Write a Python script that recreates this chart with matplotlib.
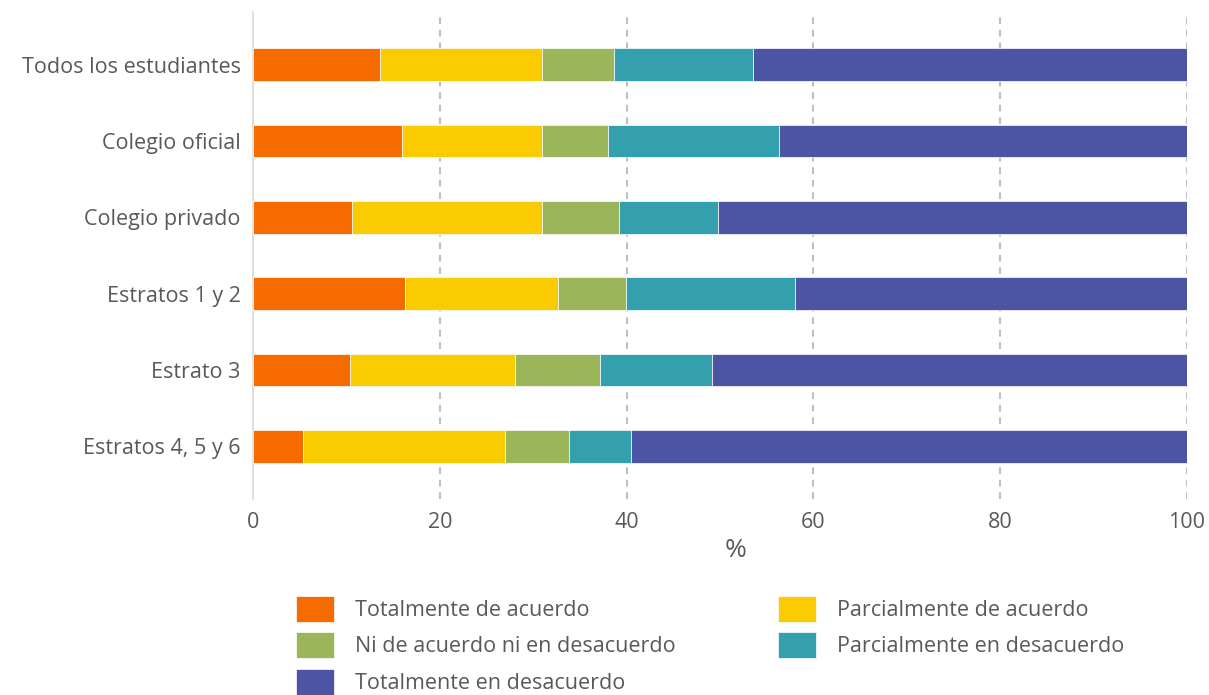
import matplotlib.pyplot as plt
import numpy as np

plt.rcParams['font.family'] = ['Open Sans', 'DejaVu Sans']

groups = ['Todos los estudiantes', 'Colegio oficial', 'Colegio privado',
          'Estratos 1 y 2', 'Estrato 3', 'Estratos 4, 5 y 6']
categories = ['Totalmente de acuerdo', 'Parcialmente de acuerdo',
              'Ni de acuerdo ni en desacuerdo', 'Parcialmente en desacuerdo',
              'Totalmente en desacuerdo']

totalmente_acuerdo = [13.6, 15.9, 10.6, 16.3, 10.4, 5.4]
parcialmente_acuerdo = [17.3, 15.0, 20.3, 16.4, 17.7, 21.6]
ni_ni = [7.7, 7.1, 8.3, 7.2, 9.1, 6.8]
parcialmente_desacuerdo = [14.9, 18.3, 10.6, 18.1, 11.9, 6.7]
totalmente_desacuerdo = [46.5, 43.7, 50.2, 42.0, 50.9, 59.5]

colors = ['#F56B00', '#FACB00', '#9AB55A', '#349FAD', '#4B55A3']
text_color = '#595959'

series = [totalmente_acuerdo, parcialmente_acuerdo, ni_ni,
          parcialmente_desacuerdo, totalmente_desacuerdo]

fig = plt.figure(figsize=(12.09, 6.95), dpi=100)
ax = fig.add_axes([0.2093, 0.282, 0.7725, 0.7007])

y = np.arange(len(groups))
left = np.zeros(len(groups))
bars = []
for vals, name, col in zip(series, categories, colors):
    b = ax.barh(y, vals, left=left, height=0.43, color=col, label=name,
                edgecolor='white', linewidth=0.5, zorder=3)
    bars.append(b)
    left += np.array(vals)

ax.set_xlim(0, 100)
ax.set_ylim(5.69, -0.69)
ax.set_xticks([0, 20, 40, 60, 80, 100])
ax.set_yticks(y)
ax.set_yticklabels(groups)
ax.tick_params(axis='both', length=0, labelsize=15.5, colors=text_color)
ax.tick_params(axis='y', pad=9)
ax.tick_params(axis='x', pad=9)

# dashed vertical gridlines
for v in [20, 40, 60, 80, 100]:
    ax.axvline(v, color='#BFBFBF', linewidth=1.5, linestyle=(0, (3.2, 2.8)), zorder=1)

for s in ['top', 'right', 'bottom']:
    ax.spines[s].set_visible(False)
ax.spines['left'].set_color('#D9D9D9')
ax.spines['left'].set_linewidth(1.2)

ax.set_xlabel('%', fontsize=19, color=text_color)
ax.xaxis.set_label_coords(0.517, -0.08)

order = [0, 2, 4, 1, 3]
fig.legend([bars[i] for i in order], [categories[i] for i in order],
           loc='upper left', bbox_to_anchor=(296 / 1209, 1 - 596 / 695),
           ncol=2, frameon=False, fontsize=15.5, borderpad=0, borderaxespad=0,
           handlelength=1.77, handleheight=1.48, handletextpad=0.98,
           labelspacing=0.48, columnspacing=4.75, labelcolor=text_color)

fig.savefig('out.png', dpi=100)
